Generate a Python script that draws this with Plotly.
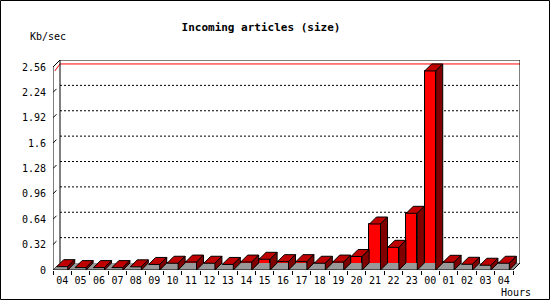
import plotly.graph_objects as go

hours = ["04", "05", "06", "07", "08", "09", "10", "11", "12", "13", "14", "15", "16",
         "17", "18", "19", "20", "21", "22", "23", "00", "01", "02", "03", "04"]
kbsec = [0.042, 0.03, 0.03, 0.03, 0.04, 0.07, 0.085, 0.10, 0.085, 0.07, 0.10, 0.135, 0.105,
         0.105, 0.085, 0.10, 0.17, 0.58, 0.286, 0.715, 2.51, 0.097, 0.072, 0.06, 0.085]
y_ticks = [0, 0.32, 0.64, 0.96, 1.28, 1.6, 1.92, 2.24, 2.56]
y_ticktext = ["0", "0.32", "0.64", "0.96", "1.28", "1.6", "1.92", "2.24", "2.56"]

W, H = 550, 300
ML, MR, MT, MB = 53, 30, 60, 30
n = len(hours)
DX = 7 / 18.4      # depth offset in category units
DY = 7 / 79.3      # depth offset in value units
YMAX = y_ticks[-1]
BW = 0.6
FONT = "DejaVu Sans Mono"

fig = go.Figure()

# floor
fig.add_trace(go.Scatter(
    x=[0, n, n + DX, DX, 0], y=[0, 0, DY, DY, 0], mode="lines", fill="toself",
    fillcolor="#999999", line=dict(width=0), hoverinfo="skip", showlegend=False))

# front faces
xc = [i + 0.5 for i in range(n)]
fig.add_trace(go.Bar(
    x=xc, y=kbsec, width=BW, marker=dict(color="#ff0000", line=dict(color="black", width=1)),
    showlegend=False, hoverinfo="skip"))

# top and side faces
tx, ty, sx, sy = [], [], [], []
for c, v in zip(xc, kbsec):
    x0, x1 = c - BW / 2, c + BW / 2
    tx += [x0, x1, x1 + DX, x0 + DX, x0, None]
    ty += [v, v, v + DY, v + DY, v, None]
    sx += [x1, x1 + DX, x1 + DX, x1, x1, None]
    sy += [0, DY, v + DY, v, 0, None]
fig.add_trace(go.Scatter(x=tx, y=ty, mode="lines", fill="toself", fillcolor="#c00000",
                         line=dict(color="black", width=1), hoverinfo="skip", showlegend=False))
fig.add_trace(go.Scatter(x=sx, y=sy, mode="lines", fill="toself", fillcolor="#800000",
                         line=dict(color="black", width=1), hoverinfo="skip", showlegend=False))

shapes = []
# grid lines on back wall + little diagonal ticks
for v in y_ticks[1:-1]:
    shapes.append(dict(type="line", xref="x", yref="y", x0=DX, x1=n + DX, y0=v + DY, y1=v + DY,
                       line=dict(color="black", width=1, dash="2px,2px"), layer="below"))
for v in y_ticks[:-1]:
    shapes.append(dict(type="line", xref="x", yref="y", x0=0, x1=DX * 0.5, y0=v, y1=v + DY * 0.5,
                       line=dict(color="black", width=1), layer="below"))
# max line (red)
vm = max(kbsec)
shapes.append(dict(type="path", xref="x", yref="y",
                   path=f"M 0.1,{vm} L {DX},{vm + DY} L {n + DX},{vm + DY}",
                   line=dict(color="#ff0000", width=1), layer="below"))
# frame
frame = [(0, 0), (0, YMAX), (DX, YMAX + DY), (n + DX, YMAX + DY), (n + DX, DY), (n, 0), (0, 0)]
shapes.append(dict(type="path", xref="x", yref="y",
                   path="M " + " L ".join(f"{a},{b}" for a, b in frame),
                   line=dict(color="black", width=1)))
shapes.append(dict(type="line", xref="x", yref="y", x0=DX, x1=DX, y0=DY, y1=YMAX + DY,
                   line=dict(color="black", width=1), layer="below"))
# image border
pw, ph = W - ML - MR, H - MT - MB
shapes.append(dict(type="rect", xref="paper", yref="paper",
                   x0=(0.5 - ML) / pw, x1=(W - 0.5 - ML) / pw,
                   y0=-(MB - 0.5) / ph, y1=(H - MB - 0.5) / ph,
                   line=dict(color="black", width=1)))

fig.update_layout(
    width=W, height=H, margin=dict(l=ML, r=MR, t=MT, b=MB),
    paper_bgcolor="white", plot_bgcolor="white",
    shapes=shapes, bargap=0,
    title=dict(text="<b>Incoming articles (size)</b>", x=261 / W, xanchor="center",
               y=1 - 27 / H, yanchor="middle", font=dict(family=FONT, size=11, color="black")),
    annotations=[
        dict(text="Kb/sec", xref="paper", yref="paper", x=(28 - ML) / pw, y=(H - MB - 37) / ph,
             xanchor="left", yanchor="middle", showarrow=False,
             font=dict(family=FONT, size=10, color="black")),
        dict(text="Hours", xref="paper", yref="paper", x=(533 - ML) / pw, y=(H - MB - 292) / ph,
             xanchor="right", yanchor="middle", showarrow=False,
             font=dict(family=FONT, size=10, color="black")),
    ],
    xaxis=dict(range=[0, n + DX], tickmode="array", tickvals=xc, ticktext=hours,
               showgrid=False, zeroline=False, showline=False, ticks="",
               tickfont=dict(family=FONT, size=10, color="black"), ticklabelstandoff=3,
               minor=dict(tickmode="linear", tick0=0, dtick=1, ticks="outside", ticklen=4,
                          tickcolor="black", showgrid=False)),
    yaxis=dict(range=[0, YMAX + DY], tickmode="array", tickvals=y_ticks, ticktext=y_ticktext,
               showgrid=False, zeroline=False, showline=False, ticks="",
               tickfont=dict(family=FONT, size=10, color="black"), ticklabelstandoff=6),
)

fig.write_html("out.html")
